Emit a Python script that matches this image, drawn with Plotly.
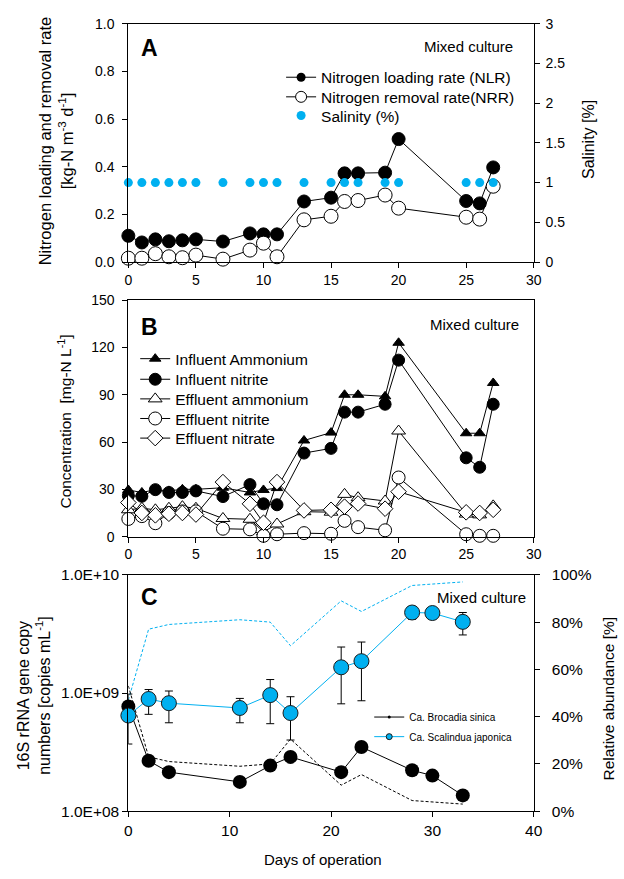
import plotly.graph_objects as go

W, H = 624, 879
FONT = "Liberation Sans, Arial, sans-serif"
BLUE = "#00B0F0"

# ---------------- Panel A data ----------------
days_a = [0, 1, 2, 3, 4, 5, 7, 9, 10, 11, 13, 15, 16, 17, 19, 20, 25, 26, 27]
nlr = [0.110, 0.082, 0.095, 0.087, 0.091, 0.095, 0.086, 0.120, 0.116, 0.116,
       0.254, 0.270, 0.372, 0.372, 0.375, 0.516, 0.256, 0.246, 0.397]
nrr = [0.016, 0.016, 0.035, 0.022, 0.018, 0.029, 0.012, 0.050, 0.079, 0.022,
       0.177, 0.192, 0.254, 0.258, 0.281, 0.226, 0.188, 0.180, 0.318]
salinity = [1, 1, 1, 1, 1, 1, 1, 1, 1, 1, 1, 1, 1, 1, 1, 1, 1, 1, 1]
ticks_a_left = [0, 0.2, 0.4, 0.6, 0.8, 1.0]
ticks_a_left_text = ["0.0", "0.2", "0.4", "0.6", "0.8", "1.0"]
ticks_a_right = [0, 0.5, 1, 1.5, 2, 2.5, 3]
ticks_a_right_text = ["0", "0.5", "1", "1.5", "2", "2.5", "3"]

# ---------------- Panel B data ----------------
days_b = [0, 1, 2, 3, 4, 5, 7, 9, 10, 11, 13, 15, 16, 17, 19, 20, 25, 26, 27]
inf_nh4 = [29.6, 28, 29.8, 29, 30, 30, 31, 28, 29.6, 30.8, 61, 66, 90, 90, 89, 123, 65.6, 65.6, 97.5]
inf_no2 = [26, 25.6, 29.8, 28, 28, 29, 25.4, 33, 20.8, 20.2, 53, 56, 79, 79, 84, 112, 50, 44, 84]
eff_nh4 = [17, 18, 17, 18, 19, 18, 11.5, 11, 3, 8, 15.8, 15.5, 26.8, 24.7, 22.6, 67, 14.3, 13.8, 19.5]
eff_no2 = [11.2, 13, 8.5, 15, 16, 16, 5, 4.6, 0.5, 1.5, 2.2, 1.8, 10, 6, 4, 37.5, 1.5, 0.5, 0.5]
eff_no3 = [21.6, 15, 13.5, 14.5, 15, 14, 34.6, 20.8, 8.8, 34.6, 16.6, 17, 19, 21, 17.7, 28.5, 15.4, 15, 17]
ticks_b = [0, 30, 60, 90, 120, 150]

# ---------------- Panel C data ----------------
days_c = [0, 2, 4, 11, 14, 16, 21, 23, 28, 30, 33]
brocadia = [7.7e8, 2.67e8, 2.14e8, 1.77e8, 2.43e8, 2.88e8, 2.14e8, 3.49e8, 2.22e8, 2.0e8, 1.36e8]
brocadia_err_up = [2.1e8, 0, 0, 0, 0, 0, 0, 0, 0, 0, 0]
brocadia_err_dn = [4.0e8, 0, 0, 0, 0, 0, 0, 0, 0, 0, 0]
scalindua = [6.45e8, 8.9e8, 8.2e8, 7.47e8, 9.6e8, 6.77e8, 1.65e9, 1.86e9, 4.8e9, 4.75e9, 4.0e9]
scal_top = [6.45e8, 1.07e9, 1.04e9, 9.0e8, 1.3e9, 9.3e8, 2.45e9, 2.7e9, 5.4e9, 5.3e9, 4.8e9]
scal_bot = [6.45e8, 6.6e8, 5.6e8, 5.6e8, 5.5e8, 4.0e8, 8.1e8, 8.6e8, 4.2e9, 4.2e9, 3.1e9]
rel_brocadia = [53, 23, 21, 19, 20, 30.5, 11, 15.5, 4.5, 4, 3]
rel_scalindua = [47, 77, 79, 81, 80, 70, 89, 84.5, 95.5, 96, 97]
ticks_c_left = [1e8, 1e9, 1e10]
ticks_c_left_text = ["1.0E+08", "1.0E+09", "1.0E+10"]
ticks_c_right = [0, 20, 40, 60, 80, 100]
ticks_c_right_text = ["0%", "20%", "40%", "60%", "80%", "100%"]

scal_err_up = [t - v for t, v in zip(scal_top, scalindua)]
scal_err_dn = [v - b for v, b in zip(scalindua, scal_bot)]


def fx(p):
    return p / W


def fy(p):
    return 1 - p / H


fig = go.Figure()
line_k = dict(color="black", width=1)

# Panel A
fig.add_trace(go.Scatter(x=days_a, y=nlr, mode="lines+markers", showlegend=False,
                         line=line_k, marker=dict(symbol="circle", size=13, color="black",
                                                  line=dict(color="black", width=1)),
                         xaxis="x", yaxis="y", cliponaxis=False))
fig.add_trace(go.Scatter(x=days_a, y=nrr, mode="lines+markers", showlegend=False,
                         line=line_k, marker=dict(symbol="circle", size=14, color="white",
                                                  line=dict(color="black", width=1)),
                         xaxis="x", yaxis="y", cliponaxis=False))
fig.add_trace(go.Scatter(x=days_a, y=salinity, mode="markers", showlegend=False,
                         marker=dict(symbol="circle", size=9, color=BLUE),
                         xaxis="x", yaxis="y2", cliponaxis=False))
# legend entries panel A
fig.add_trace(go.Scatter(x=[None], y=[None], mode="lines+markers", name="Nitrogen loading rate (NLR)",
                         line=line_k, marker=dict(symbol="circle", size=9, color="black"),
                         xaxis="x", yaxis="y", legend="legend"))
fig.add_trace(go.Scatter(x=[None], y=[None], mode="lines+markers", name="Nitrogen removal rate(NRR)",
                         line=line_k, marker=dict(symbol="circle", size=11, color="white",
                                                  line=dict(color="black", width=1)),
                         xaxis="x", yaxis="y", legend="legend2"))
fig.add_trace(go.Scatter(x=[None], y=[None], mode="markers", name="Salinity (%)",
                         marker=dict(symbol="circle", size=9, color=BLUE),
                         xaxis="x", yaxis="y", legend="legend3"))

# Panel B
fig.add_trace(go.Scatter(x=days_b, y=inf_nh4, mode="lines+markers", name="Influent Ammonium",
                         line=line_k, marker=dict(symbol="triangle-up", size=10, color="black",
                                                  line=dict(color="black", width=1)),
                         xaxis="x2", yaxis="y3", legend="legend4", cliponaxis=False))
fig.add_trace(go.Scatter(x=days_b, y=inf_no2, mode="lines+markers", name="Influent nitrite",
                         line=line_k, marker=dict(symbol="circle", size=12, color="black",
                                                  line=dict(color="black", width=1)),
                         xaxis="x2", yaxis="y3", legend="legend5", cliponaxis=False))
fig.add_trace(go.Scatter(x=days_b, y=eff_nh4, mode="lines+markers", name="Effluent ammonium",
                         line=line_k, marker=dict(symbol="triangle-up", size=12, color="white",
                                                  line=dict(color="black", width=1)),
                         xaxis="x2", yaxis="y3", legend="legend6", cliponaxis=False))
fig.add_trace(go.Scatter(x=days_b, y=eff_no2, mode="lines+markers", name="Effluent nitrite",
                         line=line_k, marker=dict(symbol="circle", size=13, color="white",
                                                  line=dict(color="black", width=1)),
                         xaxis="x2", yaxis="y3", legend="legend7", cliponaxis=False))
fig.add_trace(go.Scatter(x=days_b, y=eff_no3, mode="lines+markers", name="Effluent nitrate",
                         line=line_k, marker=dict(symbol="diamond", size=12, color="white",
                                                  line=dict(color="black", width=1)),
                         xaxis="x2", yaxis="y3", legend="legend8", cliponaxis=False))

# Panel C: relative abundance (right axis, base)
fig.add_trace(go.Scatter(x=days_c, y=rel_scalindua, mode="lines", showlegend=False,
                         line=dict(color=BLUE, width=1, dash="3px,2px"),
                         xaxis="x3", yaxis="y4", cliponaxis=False))
fig.add_trace(go.Scatter(x=days_c, y=rel_brocadia, mode="lines", showlegend=False,
                         line=dict(color="black", width=1, dash="3px,2px"),
                         xaxis="x3", yaxis="y4", cliponaxis=False))
# Panel C: copy numbers (left log axis, overlay)
fig.add_trace(go.Scatter(x=days_c, y=brocadia, mode="lines+markers", showlegend=False,
                         line=line_k, marker=dict(symbol="circle", size=14, color="black"),
                         error_y=dict(type="data", array=brocadia_err_up, arrayminus=brocadia_err_dn,
                                      color="black", thickness=1, width=4),
                         xaxis="x3", yaxis="y5", cliponaxis=False))
fig.add_trace(go.Scatter(x=days_c, y=scalindua, mode="lines+markers", showlegend=False,
                         line=dict(color=BLUE, width=1),
                         marker=dict(symbol="circle", size=15, color=BLUE,
                                     line=dict(color="#1a1a1a", width=1)),
                         error_y=dict(type="data", array=scal_err_up, arrayminus=scal_err_dn,
                                      color="black", thickness=1, width=4),
                         xaxis="x3", yaxis="y5", cliponaxis=False))
# legend-only entries for panel C
fig.add_trace(go.Scatter(x=[None], y=[None], mode="lines+markers", name="Ca. Brocadia sinica",
                         line=dict(color="black", width=1),
                         marker=dict(symbol="circle", size=3, color="black"),
                         xaxis="x3", yaxis="y5", legend="legend9"))
fig.add_trace(go.Scatter(x=[None], y=[None], mode="lines+markers", name="Ca. Scalindua japonica",
                         line=dict(color=BLUE, width=1),
                         marker=dict(symbol="circle", size=6, color=BLUE, line=dict(color="#1a1a1a", width=1)),
                         xaxis="x3", yaxis="y5", legend="legend10"))

xdom = [fx(127), fx(541)]
domA = [fy(258), fy(15)]
domB = [fy(538), fy(297)]
domC = [fy(818), fy(577)]

tickfont = dict(family=FONT, size=14, color="black")
axis_common = dict(showgrid=False, zeroline=False, showline=True, linecolor="black", linewidth=1,
                   ticks="outside", ticklen=5, tickcolor="black", tickwidth=1, tickfont=tickfont)
tickfont_c = dict(family=FONT, size=15.5, color="black")


def leg(text_x, row_y, size):
    return dict(x=fx(text_x - 40), y=fy(row_y), xanchor="left", yanchor="middle",
                bgcolor="rgba(0,0,0,0)", borderwidth=0,
                font=dict(family=FONT, size=size, color="black"))


legends = {}
rows = [(323, 70, 15.5), (323, 90, 15.5), (323, 109, 15.5),
        (174, 357, 15.5), (174, 378, 15.5), (174, 398, 15.5), (174, 418, 15.5), (174, 438, 15.5),
        (413, 722, 10), (413, 742, 10)]
for i, (tx, ty, sz) in enumerate(rows):
    key = "legend" if i == 0 else f"legend{i + 1}"
    legends[key] = leg(tx, ty, sz)

fig.update_layout(
    width=W, height=H,
    margin=dict(l=0, r=0, t=0, b=0),
    paper_bgcolor="white", plot_bgcolor="white",
    font=dict(family=FONT, color="black"),
    xaxis=dict(domain=xdom, anchor="y", range=[0, 30], tickvals=[0, 5, 10, 15, 20, 25, 30],
               mirror=True, **axis_common),
    yaxis=dict(domain=domA, anchor="x", range=[0, 1], tickvals=ticks_a_left,
               ticktext=ticks_a_left_text, ticklabelstandoff=5, **axis_common),
    yaxis2=dict(overlaying="y", side="right", anchor="x", range=[0, 3],
                tickvals=ticks_a_right, ticktext=ticks_a_right_text, ticklabelstandoff=3,
                **axis_common),
    xaxis2=dict(domain=xdom, anchor="y3", range=[0, 30], tickvals=[0, 5, 10, 15, 20, 25, 30],
                mirror=True, **axis_common),
    yaxis3=dict(domain=domB, anchor="x2", range=[0, 150], tickvals=ticks_b, ticklabelstandoff=5,
                mirror=True, **axis_common),
    xaxis3=dict(domain=xdom, anchor="y4", range=[0, 40], tickvals=[0, 10, 20, 30, 40],
                mirror=True, **{**axis_common, "tickfont": tickfont_c}),
    yaxis4=dict(domain=domC, anchor="x3", side="right", range=[0, 100],
                tickvals=ticks_c_right, ticktext=ticks_c_right_text, ticklabelstandoff=9,
                **{**axis_common, "tickfont": tickfont_c}),
    yaxis5=dict(overlaying="y4", side="left", anchor="x3", type="log", range=[8, 10],
                tickvals=ticks_c_left, ticktext=ticks_c_left_text,
                **{**axis_common, "tickfont": tickfont_c}),
    showlegend=True,
    **legends,
)

ann = []
# panel letters
for lab, yp in [("A", 40), ("B", 324), ("C", 600)]:
    ann.append(dict(text=f"<b>{lab}</b>", x=fx(138), y=fy(yp), xref="paper", yref="paper",
                    xanchor="left", yanchor="middle", showarrow=False,
                    font=dict(family=FONT, size=23, color="black")))
# Mixed culture
for xr, yp in [(522, 38), (528, 322), (535, 600)]:
    ann.append(dict(text="Mixed culture", x=fx(xr), y=fy(yp), xref="paper", yref="paper",
                    xanchor="right", yanchor="middle", showarrow=False,
                    font=dict(family=FONT, size=15, color="black")))
# axis titles
ann.append(dict(text="Nitrogen loading and removal rate<br>[kg-N m<sup>-3</sup> d<sup>-1</sup>]",
                x=fx(53), y=fy(134), xref="paper", yref="paper", textangle=-90, showarrow=False,
                xanchor="center", yanchor="middle", font=dict(family=FONT, size=16.5, color="black")))
ann.append(dict(text="Salinity [%]", x=fx(597), y=fy(133), xref="paper", yref="paper", textangle=-90,
                showarrow=False, xanchor="center", yanchor="middle",
                font=dict(family=FONT, size=16, color="black")))
ann.append(dict(text="Concentration  [mg-N L<sup>-1</sup>]", x=fx(62), y=fy(421), xref="paper",
                yref="paper", textangle=-90, showarrow=False, xanchor="center", yanchor="middle",
                font=dict(family=FONT, size=15.5, color="black")))
ann.append(dict(text="16S rRNA gene copy<br>numbers [copies mL<sup>-1</sup>]", x=fx(31), y=fy(700),
                xref="paper", yref="paper", textangle=-90, showarrow=False, xanchor="center",
                yanchor="middle", font=dict(family=FONT, size=16, color="black")))
ann.append(dict(text="Relative abundance [%]", x=fx(617), y=fy(703), xref="paper", yref="paper",
                textangle=-90, showarrow=False, xanchor="center", yanchor="middle",
                font=dict(family=FONT, size=15.5, color="black")))
ann.append(dict(text="Days of operation", x=fx(326), y=fy(867), xref="paper", yref="paper",
                showarrow=False, xanchor="center", yanchor="middle",
                font=dict(family=FONT, size=15, color="black")))
fig.update_layout(annotations=ann)

fig.write_html("out.html")
